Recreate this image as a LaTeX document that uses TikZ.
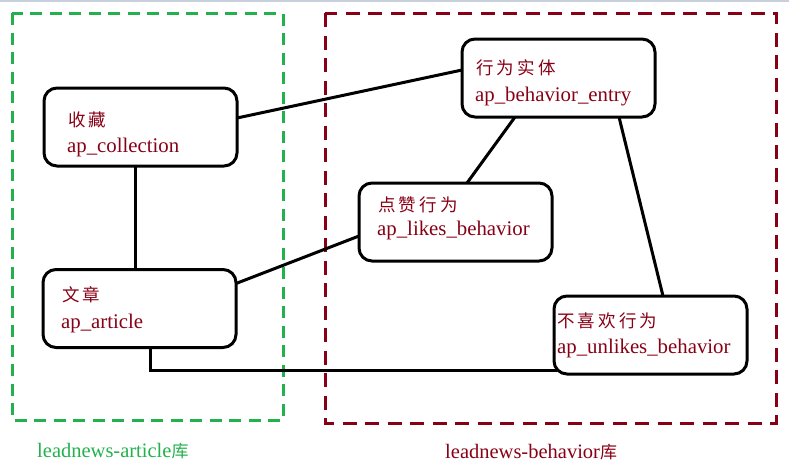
\documentclass[tikz,border=0pt]{standalone}
\usepackage{fontspec}
\setmainfont{Liberation Serif}
\newfontfamily\cjk{Noto Sans CJK SC}[LetterSpace=18]
\newfontfamily\cjklab{Noto Sans CJK SC}
\usetikzlibrary{calc}
\definecolor{dred}{HTML}{880015}
\definecolor{dgreen}{HTML}{22B14C}
\definecolor{stripc}{HTML}{C8D0DC}
\begin{document}
\begin{tikzpicture}[x=1pt,y=-1pt,
  entity/.style={draw=black,line width=3pt,rounded corners=13pt,minimum width=193pt,minimum height=78pt,outer sep=0pt,inner sep=0pt},
  cjktxt/.style={anchor=base west,inner sep=0pt,text=dred,font=\cjk\fontsize{17.5}{20}\selectfont},
  lattxt/.style={anchor=base west,inner sep=0pt,text=dred,font=\fontsize{20.8}{24}\selectfont},
  conn/.style={draw=black,line width=3pt},
  dbbox/.style={line width=3pt}]
\useasboundingbox (0,0) rectangle (789,467);
\fill[stripc] (0,0) rectangle (789,2);
% database boxes
\draw[dbbox,dgreen,dash pattern=on 12pt off 7.5pt] (12,13) rectangle (283,420);
\draw[dbbox,dred,dash pattern=on 14pt off 8.5pt] (325,13) rectangle (776,423);
% entities
\node[entity] (col) at (140.5,127) {};
\node[entity] (art) at (139.5,308.5) {};
\node[entity] (ent) at (558.5,78) {};
\node[entity] (lik) at (455.5,222) {};
\node[entity] (unl) at (650.5,335) {};
% texts
\node[cjktxt] (colc) at ($(col.north west)+(24,38)$) {收藏};
\node[lattxt] (coll) at ($(col.north west)+(23,64)$) {ap\_collection};
\node[cjktxt] (artc) at ($(art.north west)+(19,32)$) {文章};
\node[lattxt] (artl) at ($(art.north west)+(18,59)$) {ap\_article};
\node[cjktxt] (entc) at ($(ent.north west)+(14,35)$) {行为实体};
\node[lattxt] (entl) at ($(ent.north west)+(13,62)$) {ap\_behavior\_entry};
\node[cjktxt] (likc) at ($(lik.north west)+(19,28)$) {点赞行为};
\node[lattxt] (likl) at ($(lik.north west)+(18,52)$) {ap\_likes\_behavior};
\node[cjktxt] (unlc) at ($(unl.north west)+(3,31)$) {不喜欢行为};
\node[lattxt] (unll) at ($(unl.north west)+(3,57)$) {ap\_unlikes\_behavior};
% connectors
\draw[conn] ($(col.north east)+(0,30)$) -- ($(ent.north west)+(0,31)$);
\draw[conn] ($(col.south west)+(91,0)$) -- ($(art.north west)+(92,0)$);
\draw[conn] ($(art.north east)+(0,14)$) -- ($(lik.north west)+(0,53)$);
\draw[conn] ($(ent.south west)+(53,0)$) -- ($(lik.north west)+(108,0)$);
\draw[conn] ($(ent.south west)+(157,0)$) -- ($(unl.north west)+(109,0)$);
\draw[conn] ($(art.south west)+(107,0)$) |- ($(unl.south west)+(3,-4)$);
% database labels
\node[anchor=base west,inner sep=0pt,text=dgreen,font=\fontsize{20.5}{24}\selectfont] (labA) at (37,457) {leadnews-article{\cjklab\fontsize{17}{20}\selectfont 库}};
\node[anchor=base west,inner sep=0pt,text=dred,font=\fontsize{20.5}{24}\selectfont] (labB) at (445,458) {leadnews-behavior{\cjklab\fontsize{17}{20}\selectfont 库}};
\end{tikzpicture}
\end{document}
